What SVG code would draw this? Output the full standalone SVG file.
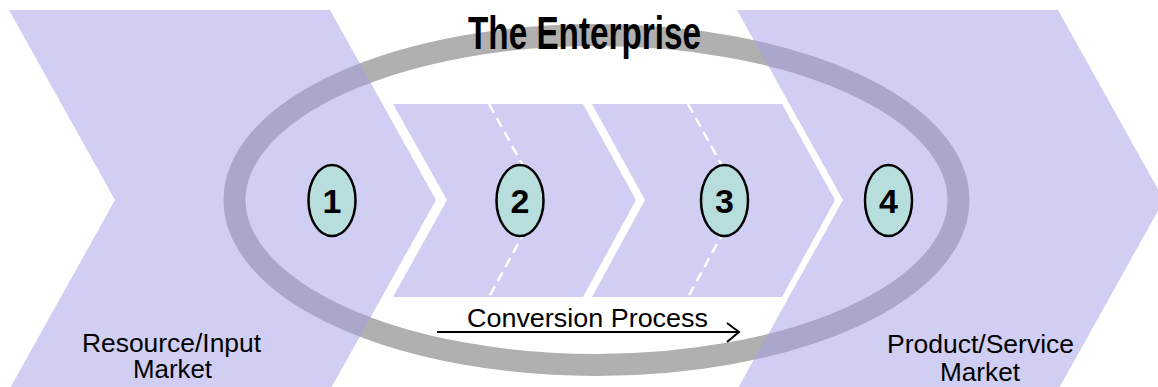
<svg xmlns="http://www.w3.org/2000/svg" width="1158" height="387" viewBox="0 0 1158 387">
  <style>
    .chev { fill: #a29de6; fill-opacity: 0.5; stroke: none; }
    .dash { fill: none; stroke: #ffffff; stroke-width: 2.5; stroke-dasharray: 10 6; }
    .badge { fill: #b8dddd; stroke: #000000; stroke-width: 2.5; }
    .num { font-family: "Liberation Sans", Arial, sans-serif; font-weight: bold; font-size: 34px; fill: #000000; text-anchor: middle; }
    .lbl { font-family: "Liberation Sans", Arial, sans-serif; font-size: 25px; fill: #000000; }
    .title { font-family: "Liberation Sans", Arial, sans-serif; font-weight: bold; font-size: 46px; fill: #000000; }
    .conn { fill: none; stroke: #000000; stroke-width: 2; }
  </style>
  <rect x="0" y="0" width="1158" height="387" fill="#ffffff"/>

  <g id="enterprise">
    <ellipse cx="596.5" cy="200" rx="362" ry="165" fill="none" stroke="#b0b0b0" stroke-width="22"/>
  </g>

  <g id="resource-market">
    <polygon class="chev" points="9,10 330,10 436,200 330,390 9,390 115,200"/>
    <text class="lbl" x="82" y="352" textLength="179" lengthAdjust="spacingAndGlyphs">Resource/Input</text>
    <text class="lbl" x="133" y="378" textLength="79" lengthAdjust="spacingAndGlyphs">Market</text>
  </g>

  <g id="step-2">
    <polygon class="chev" points="393,104 583,104 636,200 583,297 393,297 447,200"/>
    <polyline class="dash" points="489,104 542,200 489,297"/>
  </g>

  <g id="step-3">
    <polygon class="chev" points="592,104 782,104 835,200 782,297 592,297 645,200"/>
    <polyline class="dash" points="688,104 741,200 688,297"/>
  </g>

  <g id="product-market">
    <polygon class="chev" points="737,10 1058,10 1164,200 1058,390 737,390 843,200"/>
    <text class="lbl" x="887" y="353" textLength="187" lengthAdjust="spacingAndGlyphs">Product/Service</text>
    <text class="lbl" x="940" y="381" textLength="80" lengthAdjust="spacingAndGlyphs">Market</text>
  </g>

  <g id="title">
    <text class="title" x="468" y="49" textLength="233" lengthAdjust="spacingAndGlyphs">The Enterprise</text>
  </g>

  <g id="node-1">
    <ellipse class="badge" cx="332" cy="200.5" rx="23.5" ry="35.5"/>
    <text class="num" x="332" y="213">1</text>
  </g>
  <g id="node-2">
    <ellipse class="badge" cx="520" cy="200.5" rx="23.5" ry="35.5"/>
    <text class="num" x="520" y="213">2</text>
  </g>
  <g id="node-3">
    <ellipse class="badge" cx="724.5" cy="200.5" rx="23.5" ry="35.5"/>
    <text class="num" x="724.5" y="213">3</text>
  </g>
  <g id="node-4">
    <ellipse class="badge" cx="888.5" cy="200.5" rx="23.5" ry="35.5"/>
    <text class="num" x="888.5" y="213">4</text>
  </g>

  <g id="connectors">
    <line class="conn" x1="437" y1="332" x2="739" y2="332"/>
    <polyline class="conn" points="727,323 739,332 727,342"/>
    <text class="lbl" x="467" y="327" textLength="241" lengthAdjust="spacingAndGlyphs">Conversion Process</text>
  </g>
</svg>
